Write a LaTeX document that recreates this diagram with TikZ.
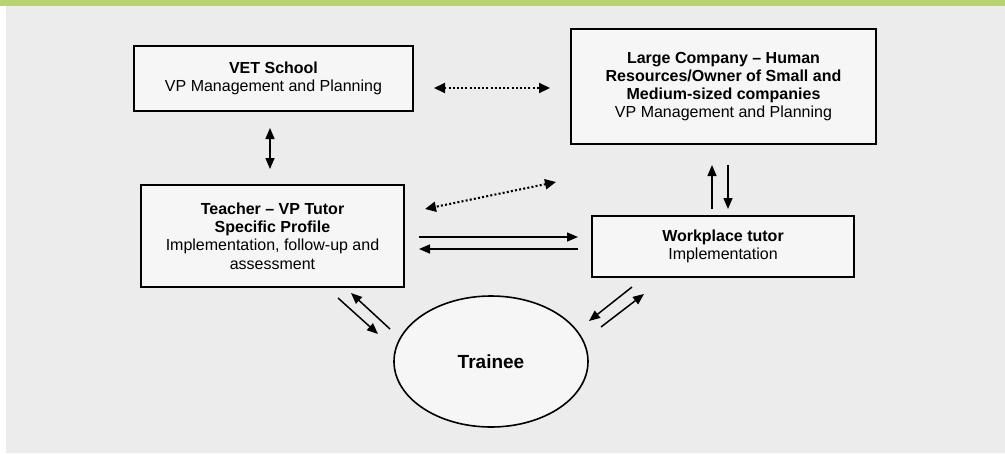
\documentclass[tikz,border=0pt]{standalone}
\usepackage{fontspec}
\setmainfont{Liberation Sans}
\usetikzlibrary{arrows.meta,shapes.geometric}
\definecolor{bggray}{RGB}{236,236,236}
\definecolor{boxfill}{RGB}{246,246,246}
\definecolor{topgreen}{RGB}{185,212,110}
\begin{document}
\begin{tikzpicture}[x=1pt,y=-1pt,
  box/.style={draw=black, line width=1.7pt, fill=boxfill, rectangle, inner sep=0pt, align=center, font=\fontsize{16}{18.2}\selectfont},
  oval/.style={draw=black, line width=1.6pt, fill=boxfill, ellipse, inner sep=0pt, font=\fontsize{19}{22}\selectfont\bfseries},
  solidarrow/.style={line width=1.5pt, -{Triangle[length=11pt,width=9pt]}},
  solidboth/.style={line width=1.5pt, {Triangle[length=11pt,width=9pt]}-{Triangle[length=11pt,width=9pt]}},
  dotarrow/.style={line width=2.1pt, dash pattern=on 2pt off 2.2pt, {Triangle[length=11pt,width=10pt]}-{Triangle[length=11pt,width=10pt]}},
]
\useasboundingbox (0,0) rectangle (1005,453);
\fill[white] (0,0) rectangle (1005,453);
\fill[bggray] (6,6) rectangle (1005,453);
\fill[topgreen] (0,0) rectangle (1005,6);

\node[box, minimum width=279pt, minimum height=65pt] (vet) at (273.5,78.5)
  {\textbf{VET School}\\VP Management and Planning};
\node[box, minimum width=305pt, minimum height=115pt] (large) at (723.5,86.5)
  {\textbf{Large Company -- Human}\\\textbf{Resources/Owner of Small and}\\\textbf{Medium-sized companies}\\VP Management and Planning};
\node[box, minimum width=263pt, minimum height=102pt] (teacher) at (272.5,236)
  {\textbf{Teacher -- VP Tutor}\\\textbf{Specific Profile}\\Implementation, follow-up and\\assessment};
\node[box, minimum width=262pt, minimum height=61pt] (work) at (723,246.5)
  {\textbf{Workplace tutor}\\Implementation};
\node[oval, minimum width=194pt, minimum height=131pt] (trainee) at (491,361.5) {Trainee};

% VET <-> Large (dotted)
\coordinate (d1a) at (434,88);
\coordinate (d1b) at (550,88);
\draw[dotarrow] (d1a) -- (d1b);
% Large <-> Teacher (dotted diagonal)
\coordinate (d2a) at (556,182);
\coordinate (d2b) at (425,209);
\draw[dotarrow] (d2a) -- (d2b);
% VET <-> Teacher
\coordinate (v1a) at (270,128);
\coordinate (v1b) at (270,169);
\draw[solidboth] (v1a) -- (v1b);
% Large <-> Workplace
\coordinate (w1a) at (712,209);
\coordinate (w1b) at (712,165);
\draw[solidarrow] (w1a) -- (w1b);
\coordinate (w2a) at (728,165);
\coordinate (w2b) at (728,209);
\draw[solidarrow] (w2a) -- (w2b);
% Teacher <-> Workplace
\coordinate (h1a) at (419,237);
\coordinate (h1b) at (578,237);
\draw[solidarrow] (h1a) -- (h1b);
\coordinate (h2a) at (578,249);
\coordinate (h2b) at (419,249);
\draw[solidarrow] (h2a) -- (h2b);
% Teacher <-> Trainee
\coordinate (t1a) at (338,298);
\coordinate (t1b) at (378,334);
\draw[solidarrow] (t1a) -- (t1b);
\coordinate (t2a) at (390,329);
\coordinate (t2b) at (351,293);
\draw[solidarrow] (t2a) -- (t2b);
% Workplace <-> Trainee
\coordinate (r1a) at (632,287);
\coordinate (r1b) at (589,321);
\draw[solidarrow] (r1a) -- (r1b);
\coordinate (r2a) at (601,327);
\coordinate (r2b) at (644,294);
\draw[solidarrow] (r2a) -- (r2b);
\end{tikzpicture}
\end{document}
